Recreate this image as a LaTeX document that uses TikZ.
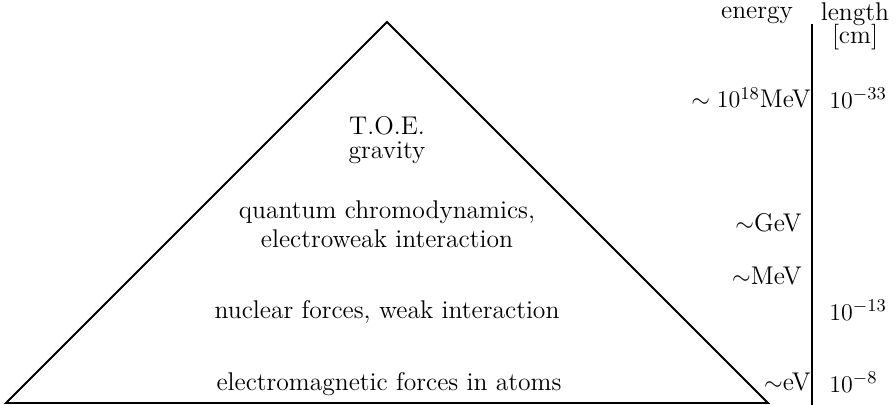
\documentclass[tikz,border=0pt]{standalone}
\begin{document}
\begin{tikzpicture}[x=0.5pt,y=-0.5pt,
  lbl/.style={inner sep=0pt,font=\fontsize{12.8}{14.5}\selectfont},
  edge/.style={line width=0.9pt,line join=miter}]
\useasboundingbox (0,0) rectangle (896,405);
\coordinate (apex) at (387,22);
\coordinate (bl) at (6,403);
\coordinate (br) at (768,403);
\draw[edge] (bl) -- (apex) -- (br) -- cycle;
\coordinate (vt) at (812,24);
\coordinate (vb) at (812,405);
\draw[edge] (vt) -- (vb);
% triangle labels
\node[lbl] (toe) at (387,126) {T.O.E.};
\node[lbl] (grav) at (387,153) {gravity};
\node[lbl,align=center] (qcd) at (387,224) {quantum chromodynamics,\\electroweak interaction};
\node[lbl] (nuc) at (387,312) {nuclear forces, weak interaction};
\node[lbl] (em) at (389,384) {electromagnetic forces in atoms};
% header
\node[lbl] (en) at (757,15) {energy};
\node[lbl,align=center] (len) at (855,26) {length\\[-3pt]{[}cm{]}};
% energy scale
\node[lbl,anchor=east] (e1) at (811,98) {$\sim10^{18}$MeV};
\node[lbl,anchor=east] (e2) at (802,223) {$\sim$GeV};
\node[lbl,anchor=east] (e3) at (802,276) {$\sim$MeV};
\node[lbl,anchor=east] (e4) at (811,382) {$\sim$eV};
% length scale
\node[lbl,anchor=west] (l1) at (829,98) {$10^{-33}$};
\node[lbl,anchor=west] (l2) at (829,310) {$10^{-13}$};
\node[lbl,anchor=west] (l3) at (829,382) {$10^{-8}$};
\end{tikzpicture}
\end{document}
